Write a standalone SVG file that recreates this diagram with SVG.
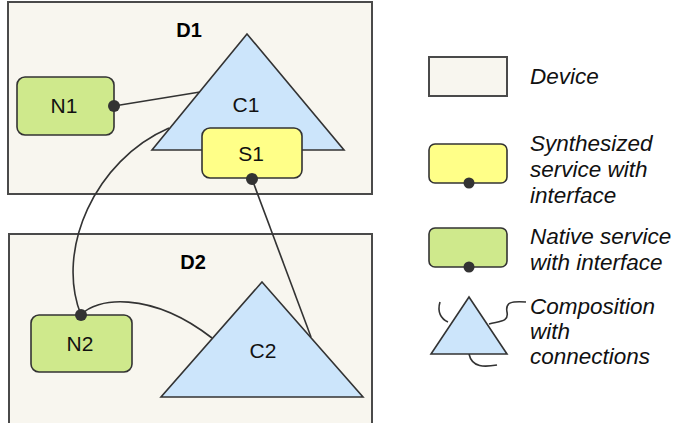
<svg xmlns="http://www.w3.org/2000/svg" width="675" height="423" viewBox="0 0 675 423">
<style>
.dev{fill:#f8f6ef;stroke:#4a4a4a;stroke-width:2}
.comp{fill:#cce5fb;stroke:#333;stroke-width:1.6;stroke-linejoin:miter}
.syn{fill:#ffff88;stroke:#333;stroke-width:1.6}
.nat{fill:#cfe98c;stroke:#333;stroke-width:1.6}
.con{fill:none;stroke:#333;stroke-width:1.6}
.dot{fill:#333}
.lbl{font-family:"Liberation Sans",Arial,sans-serif;font-size:21px;fill:#111;text-anchor:middle}
.dlbl{font-family:"Liberation Sans",Arial,sans-serif;font-size:20px;font-weight:bold;fill:#000;text-anchor:middle}
.leg{font-family:"Liberation Sans",Arial,sans-serif;font-size:22.5px;font-style:italic;fill:#111}
</style>
<g id="D1">
<rect class="dev" x="8" y="2" width="364" height="192"/>
<text class="dlbl" x="189" y="37">D1</text>
</g>
<g id="D2">
<rect class="dev" x="9" y="234" width="363" height="200"/>
<text class="dlbl" x="193" y="269">D2</text>
</g>
<g id="C1">
<polygon class="comp" points="247,34 344,150 152,150"/>
<text class="lbl" x="246" y="112">C1</text>
</g>
<g id="N1">
<rect class="nat" x="17" y="77" width="97" height="58" rx="8"/>
<text class="lbl" x="64" y="113">N1</text>
</g>
<g id="S1">
<rect class="syn" x="202" y="128" width="100" height="50" rx="8"/>
<text class="lbl" x="251" y="161">S1</text>
</g>
<g id="C2">
<polygon class="comp" points="262,282 363,397 161,397"/>
<text class="lbl" x="263" y="358">C2</text>
</g>
<g id="N2">
<rect class="nat" x="31" y="315" width="101" height="57" rx="8"/>
<text class="lbl" x="80" y="351">N2</text>
</g>
<g id="connectors">
<path class="con" d="M114,106 L200,92"/>
<path class="con" d="M252,179 L311,337"/>
<path class="con" d="M169,128 C95,160 55,250 81,315"/>
<path class="con" d="M81,315 C95,298 150,290 212,338"/>
<circle class="dot" cx="114" cy="106" r="6"/>
<circle class="dot" cx="252" cy="179" r="6"/>
<circle class="dot" cx="81" cy="315" r="6"/>
</g>
<g id="legend">
<rect class="dev" x="429" y="57" width="78" height="39"/>
<text class="leg" x="530" y="84">Device</text>
<rect class="syn" x="429" y="144" width="78" height="39" rx="6"/>
<circle class="dot" cx="469" cy="183" r="5.5"/>
<text class="leg" x="530" y="151">Synthesized</text>
<text class="leg" x="530" y="177">service with</text>
<text class="leg" x="530" y="203">interface</text>
<rect class="nat" x="429" y="228" width="78" height="39" rx="6"/>
<circle class="dot" cx="469" cy="267" r="5.5"/>
<text class="leg" x="530" y="244">Native service</text>
<text class="leg" x="530" y="270">with interface</text>
<path class="con" d="M440,302 C437,312 441,319 448,322"/>
<path class="con" d="M489,324 C500,321 509,322 507,312 C505,302 512,301 526,302"/>
<path class="con" d="M469,354 C472,368 485,367 497,365"/>
<polygon class="comp" points="469,297 507,354 431,354"/>
<text class="leg" x="530" y="314">Composition</text>
<text class="leg" x="530" y="339">with</text>
<text class="leg" x="530" y="364">connections</text>
</g>
</svg>
